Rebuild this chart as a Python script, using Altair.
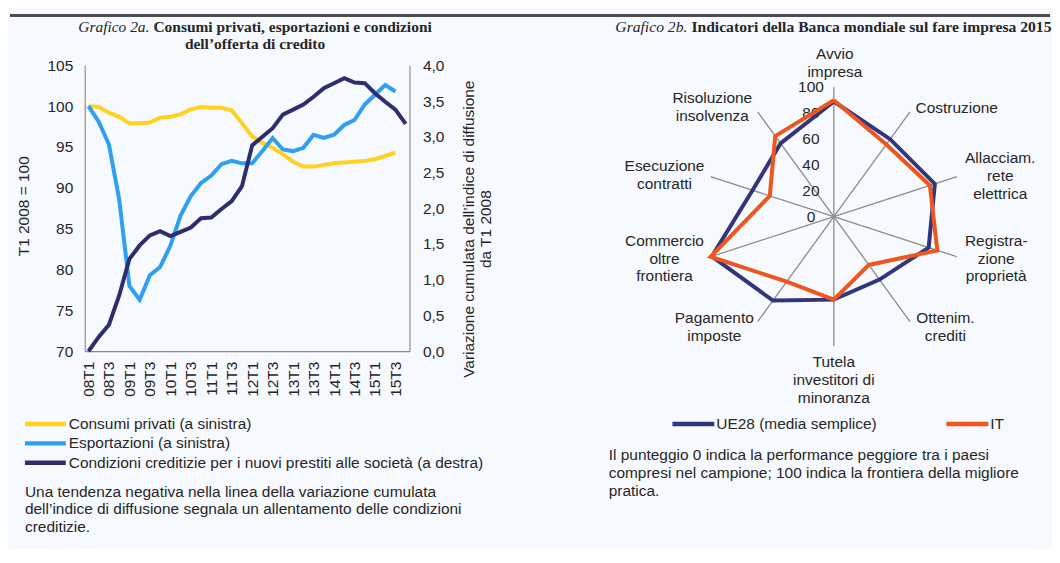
import altair as alt
import pandas as pd

# ---------------- data: left panel ----------------
quarters = ["08T1", "08T2", "08T3", "08T4", "09T1", "09T2", "09T3", "09T4",
            "10T1", "10T2", "10T3", "10T4", "11T1", "11T2", "11T3", "11T4",
            "12T1", "12T2", "12T3", "12T4", "13T1", "13T2", "13T3", "13T4",
            "14T1", "14T2", "14T3", "14T4", "15T1", "15T2", "15T3", "15T4"]
consumi = [100.0, 99.9, 99.2, 98.7, 97.9, 97.9, 98.0, 98.6, 98.7, 99.0, 99.6,
           99.9, 99.8, 99.8, 99.5, 97.9, 96.3, 95.5, 94.9, 94.1, 93.2, 92.6,
           92.6, 92.8, 93.0, 93.1, 93.2, 93.3, 93.5, 93.9, 94.3]
esportazioni = [100.0, 98.1, 95.3, 88.6, 78.0, 76.3, 79.3, 80.3, 82.9, 86.6,
                89.0, 90.6, 91.5, 92.9, 93.3, 93.0, 93.0, 94.5, 96.1, 94.7,
                94.5, 94.9, 96.5, 96.1, 96.5, 97.7, 98.3, 100.2, 101.4, 102.6,
                101.8]
condizioni = [0.00, 0.20, 0.37, 0.78, 1.29, 1.48, 1.62, 1.68, 1.61, 1.67, 1.73,
              1.86, 1.87, 1.99, 2.10, 2.31, 2.88, 3.00, 3.12, 3.31, 3.38, 3.45,
              3.56, 3.68, 3.75, 3.82, 3.76, 3.75, 3.61, 3.49, 3.38, 3.18]
series_names = ["Consumi privati (a sinistra)",
                "Esportazioni (a sinistra)",
                "Condizioni creditizie per i nuovi prestiti alle società (a destra)"]
series_colors = ["#FFD21F", "#2F9FF2", "#2D2E6C"]
left_ticks = [70, 75, 80, 85, 90, 95, 100, 105]
right_ticks = [0, 0.5, 1, 1.5, 2, 2.5, 3, 3.5, 4]

# ---------------- data: right panel ----------------
categories = ["Avvio impresa", "Costruzione", "Allacciam. rete elettrica",
              "Registrazione proprietà", "Ottenim. crediti",
              "Tutela investitori di minoranza", "Pagamento imposte",
              "Commercio oltre frontiera", "Esecuzione contratti",
              "Risoluzione insolvenza"]
ue28 = [89, 74, 82, 77, 60, 64, 80, 99, 66, 70]
it = [90, 69, 78, 84, 46, 64, 62, 100, 52, 77]
radar_series = ["UE28 (media semplice)", "IT"]
radar_colors = ["#33357A", "#EE561F"]
radar_ticks = [0, 20, 40, 60, 80, 100]

# ---------------- style ----------------
SANS = "Liberation Sans"
SERIF = "Liberation Serif"
TXT = "#262626"
AXC = "#8C8C8C"
BG = "#F6F9FD"
FS = 15.5

# page-coordinate anchors of the two plot areas
LX0, LY0 = 83, 64
LW, LH = 326, 287
PXU = 1.3                    # radar pixels per unit
RCX, RCY = 835, 216          # radar centre (page)
RX0 = RCX - 165 * PXU
RW = 330 * PXU
RH = LH

DUMMY = alt.Data(values=[{}])


def txt(line, x, y, x0, y0, align="center", baseline="middle", size=FS,
        font=SANS, weight="normal", style="normal", color=TXT):
    return alt.Chart(DUMMY).mark_text(
        text=line, align=align, baseline=baseline, font=font, fontSize=size,
        fontWeight=weight, fontStyle=style, color=color
    ).encode(x=alt.value(x - x0), y=alt.value(y - y0))


def key(color, xa, xb, y, x0, y0):
    return alt.Chart(DUMMY).mark_rule(color=color, strokeWidth=4.5).encode(
        x=alt.value(xa - x0), x2=alt.value(xb - x0), y=alt.value(y - y0))


# ---------------- left panel ----------------
rows_l, rows_r = [], []
for i, q in enumerate(quarters):
    if i < len(consumi):
        rows_l.append({"q": q, "serie": series_names[0], "v": consumi[i]})
    if i < len(esportazioni):
        rows_l.append({"q": q, "serie": series_names[1], "v": esportazioni[i]})
    if i < len(condizioni):
        rows_r.append({"q": q, "serie": series_names[2], "v": condizioni[i]})
df_l = pd.DataFrame(rows_l)
df_r = pd.DataFrame(rows_r)

color_l = alt.Color(
    "serie:N", scale=alt.Scale(domain=series_names, range=series_colors),
    legend=None,
)

xq = alt.X(
    "q:O", sort=quarters,
    scale=alt.Scale(type="point", padding=0.37),
    axis=alt.Axis(values=quarters[::2], labelAngle=-90, labelFont=SANS,
                  labelFontSize=FS, labelColor=TXT, labelPadding=10,
                  ticks=False, domainColor=AXC, domainWidth=1.2, title=None,
                  grid=False, labelOverlap=False),
)

lines_left = alt.Chart(df_l).mark_line(strokeWidth=4).encode(
    x=xq,
    y=alt.Y("v:Q", scale=alt.Scale(domain=[70, 105], nice=False, zero=False),
            axis=alt.Axis(values=left_ticks, ticks=False, grid=False,
                          domainColor=AXC, domainWidth=1.2, labelFont=SANS,
                          labelFontSize=FS, labelColor=TXT, labelPadding=12,
                          title="T1 2008 = 100", titleFont=SANS,
                          titleFontSize=FS, titleFontWeight="normal",
                          titleColor=TXT, titleX=22 - LX0, titleY=141,
                          titleAngle=270, titleBaseline="middle",
                          titleAlign="center")),
    color=color_l,
)

lines_right = alt.Chart(df_r).mark_line(strokeWidth=4).encode(
    x=xq,
    y=alt.Y("v:Q", scale=alt.Scale(domain=[0, 4], nice=False),
            axis=alt.Axis(orient="right", values=right_ticks, ticks=False,
                          grid=False, domainColor=AXC, domainWidth=1.2,
                          labelFont=SANS, labelFontSize=FS, labelColor=TXT,
                          labelPadding=13,
                          labelExpr="replace(format(datum.value, '.1f'), '.', ',')",
                          title=["Variazione cumulata dell’indice di diffusione",
                                 "da T1 2008"],
                          titleFont=SANS, titleFontSize=FS,
                          titleFontWeight="normal", titleColor=TXT,
                          titleX=468 - (LX0 + LW), titleY=164,
                          titleAngle=270, titleBaseline="middle",
                          titleAlign="center", titleLineHeight=17)),
    color=color_l,
)

left_annot = [
    alt.Chart(DUMMY).mark_rule(color="#4D4D4D", strokeWidth=3).encode(
        x=alt.value(8 - LX0), x2=alt.value(1052 - LX0), y=alt.value(14 - LY0)),
    txt("Grafico 2a.", 148, 31, LX0, LY0, align="right", baseline="alphabetic",
        font=SERIF, style="italic"),
    txt("Consumi privati, esportazioni e condizioni", 152, 31, LX0, LY0,
        align="left", baseline="alphabetic", font=SERIF, weight="bold"),
    txt("dell’offerta di credito", 254, 48, LX0, LY0, baseline="alphabetic",
        font=SERIF, weight="bold"),
]
legend_rows_y = [424, 443.5, 463]
for name, col, yy in zip(series_names, series_colors, legend_rows_y):
    left_annot.append(key(col, 23, 64, yy, LX0, LY0))
    left_annot.append(txt(name, 67, yy, LX0, LY0, align="left"))
for j, line in enumerate([
        "Una tendenza negativa nella linea della variazione cumulata",
        "dell’indice di diffusione segnala un allentamento delle condizioni",
        "creditizie."]):
    left_annot.append(txt(line, 23, 492 + 17.5 * j, LX0, LY0, align="left"))

left = alt.layer(lines_left, lines_right, *left_annot).resolve_scale(
    y="independent").properties(width=LW, height=LH)

# ---------------- right panel (radar) ----------------
n = len(categories)
xs = alt.Scale(domain=[-165, 165], nice=False, zero=False)
ys = alt.Scale(domain=[-(RH - (RCY - LY0)) / PXU, (RCY - LY0) / PXU],
               nice=False, zero=False)

spoke_df = pd.DataFrame({"cat": categories, "idx": list(range(n))})
spokes = alt.Chart(spoke_df).transform_calculate(
    ang=f"datum.idx * 2 * PI / {n}",
    sx="100 * sin(datum.ang)", sy="100 * cos(datum.ang)", z="0",
).mark_rule(color=AXC, strokeWidth=1.3).encode(
    x=alt.X("z:Q", scale=xs, axis=None), y=alt.Y("z:Q", scale=ys, axis=None),
    x2="sx:Q", y2="sy:Q",
)

tick_df = pd.DataFrame({"t": radar_ticks})
tick_text = alt.Chart(tick_df).transform_calculate(z="0").mark_text(
    dx=-23, align="center", baseline="middle", font=SANS, fontSize=FS,
    color=TXT,
).encode(x=alt.X("z:Q", scale=xs, axis=None),
         y=alt.Y("t:Q", scale=ys, axis=None), text="t:Q")

color_r = alt.Color(
    "serie:N", scale=alt.Scale(domain=radar_series, range=radar_colors),
    legend=None,
)


def polygon(name, vals):
    rows = [{"serie": name, "k": k, "idx": k % n, "v": vals[k % n]}
            for k in range(n + 1)]
    return alt.Chart(pd.DataFrame(rows)).transform_calculate(
        ang=f"datum.idx * 2 * PI / {n}",
        px="datum.v * sin(datum.ang)", py="datum.v * cos(datum.ang)",
    ).mark_line(strokeWidth=4, strokeJoin="miter").encode(
        x=alt.X("px:Q", scale=xs, axis=None),
        y=alt.Y("py:Q", scale=ys, axis=None),
        order="k:Q", color=color_r,
    )


cat_labels = [
    (["Avvio", "impresa"], 836, 53, "center"),
    (["Costruzione"], 917, 107, "left"),
    (["Allacciam.", "rete", "elettrica"], 1002, 157, "center"),
    (["Registra-", "zione", "proprietà"], 998, 240, "center"),
    (["Ottenim.", "crediti"], 947, 318, "center"),
    (["Tutela", "investitori di", "minoranza"], 835, 362, "center"),
    (["Pagamento", "imposte"], 715, 318, "center"),
    (["Commercio", "oltre", "frontiera"], 665, 240, "center"),
    (["Esecuzione", "contratti"], 665, 165, "center"),
    (["Risoluzione", "insolvenza"], 713, 97, "center"),
]
right_annot = [
    txt("Grafico 2b.", 688, 31, RX0, LY0, align="right", baseline="alphabetic",
        font=SERIF, style="italic", size=15.7),
    txt("Indicatori della Banca mondiale sul fare impresa 2015", 692, 31, RX0,
        LY0, align="left", baseline="alphabetic", font=SERIF, weight="bold",
        size=15.7),
]
for lines, x, y, al in cat_labels:
    for j, line in enumerate(lines):
        right_annot.append(txt(line, x, y + 18 * j, RX0, LY0, align=al))
for name, col, xa in zip(radar_series, radar_colors, [673, 948]):
    right_annot.append(key(col, xa, xa + 42, 424, RX0, LY0))
    right_annot.append(txt(name, xa + 44, 424, RX0, LY0, align="left"))
for j, line in enumerate([
        "Il punteggio 0 indica la performance peggiore tra i paesi",
        "compresi nel campione; 100 indica la frontiera della migliore",
        "pratica."]):
    right_annot.append(txt(line, 609, 455 + 18 * j, RX0, LY0, align="left"))

right = alt.layer(
    spokes, tick_text, polygon(radar_series[0], ue28),
    polygon(radar_series[1], it), *right_annot,
).properties(width=RW, height=RH)

chart = alt.hconcat(
    left, right, spacing=RX0 - (LX0 + LW), bounds="flush"
).resolve_scale(color="independent").configure_view(stroke=None).properties(
    background=BG, padding={"left": 0, "top": 4.5, "right": 0, "bottom": 12}
)

chart.save("out.html", embed_options={"renderer": "svg", "actions": False})
